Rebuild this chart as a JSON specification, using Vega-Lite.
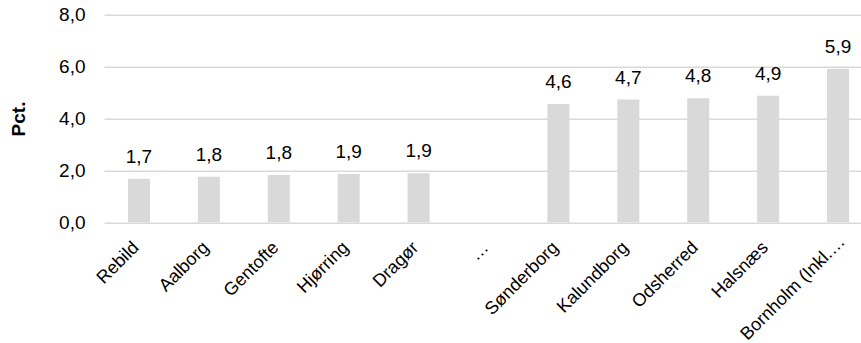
{
  "$schema": "https://vega.github.io/schema/vega-lite/v6.json",
  "width": 757,
  "height": 207.6,
  "autosize": {"type": "none"},
  "padding": {"left": 104, "top": 14.7, "right": 0, "bottom": 120.7},
  "background": "white",
  "config": {
    "locale": {"number": {"decimal": ",", "thousands": ".", "grouping": [3], "currency": ["", " kr."]}},
    "font": "Liberation Sans",
    "view": {"stroke": null}
  },
  "data": {
    "values": [
      {"kommune": "Rebild", "pct": 1.68},
      {"kommune": "Aalborg", "pct": 1.76},
      {"kommune": "Gentofte", "pct": 1.82},
      {"kommune": "Hjørring", "pct": 1.86},
      {"kommune": "Dragør", "pct": 1.89},
      {"kommune": "…", "pct": null},
      {"kommune": "Sønderborg", "pct": 4.56},
      {"kommune": "Kalundborg", "pct": 4.73},
      {"kommune": "Odsherred", "pct": 4.78},
      {"kommune": "Halsnæs", "pct": 4.88},
      {"kommune": "Bornholm (Inkl. Christiansø)", "pct": 5.92}
    ]
  },
  "encoding": {
    "x": {
      "field": "kommune",
      "type": "nominal",
      "sort": null,
      "scale": {
        "domain": ["Rebild", "Aalborg", "Gentofte", "Hjørring", "Dragør", "…", "Sønderborg", "Kalundborg", "Odsherred", "Halsnæs", "Bornholm (Inkl. Christiansø)"],
        "range": [0, 769],
        "paddingInner": 0,
        "paddingOuter": 0
      },
      "axis": {
        "title": null,
        "labelAngle": -45,
        "labelFontSize": 18,
        "labelColor": "#000000",
        "labelPadding": {"condition": {"test": "indexof(datum.value, 'Bornholm') == 0", "value": 10}, "value": 16},
        "labelOffset": {"condition": {"test": "indexof(datum.value, 'Bornholm') == 0", "value": -2}, "value": -9},
        "labelLimit": 142,
        "ticks": false,
        "domain": false,
        "grid": false
      }
    }
  },
  "layer": [
    {
      "mark": {"type": "bar", "size": 22, "color": "#d9d9d9"},
      "encoding": {
        "y": {
          "field": "pct",
          "type": "quantitative",
          "scale": {"domain": [0, 8], "nice": false},
          "axis": {
            "title": "Pct.",
            "titleFontSize": 19,
            "titleFontWeight": "bold",
            "titleColor": "#000000",
            "titlePadding": 30,
            "values": [0, 2, 4, 6, 8],
            "format": ",.1f",
            "labelFontSize": 19,
            "labelColor": "#000000",
            "labelPadding": 19,
            "ticks": false,
            "domain": false,
            "gridColor": "#d9d9d9",
            "gridWidth": 1.5
          }
        }
      }
    },
    {
      "mark": {"type": "text", "baseline": "alphabetic", "dy": -16, "fontSize": 19, "color": "#000000"},
      "encoding": {
        "y": {"field": "pct", "type": "quantitative"},
        "text": {"field": "pct", "type": "quantitative", "format": ",.1f"}
      }
    }
  ]
}
